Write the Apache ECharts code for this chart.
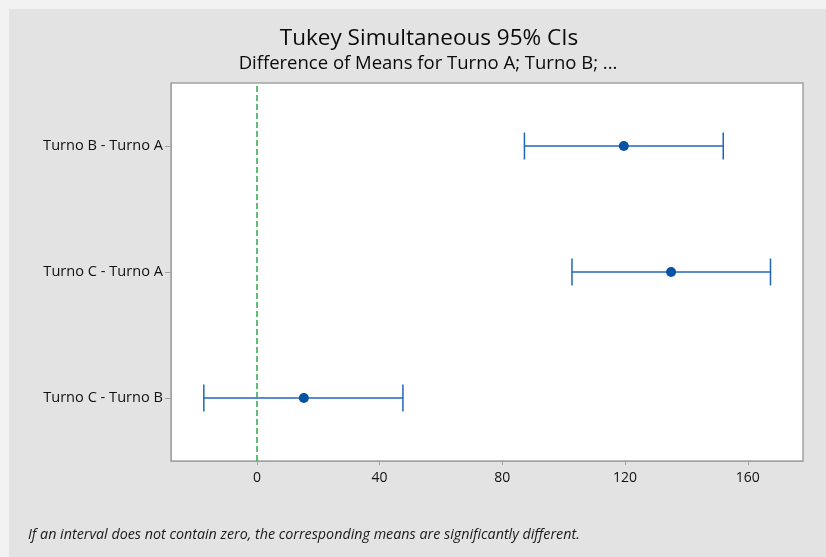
<!DOCTYPE html>
<html>
<head>
<meta charset="utf-8">
<script src="https://cdn.jsdelivr.net/npm/echarts@6/dist/echarts.min.js"></script>
<style>
html,body{margin:0;padding:0;background:#f2f2f2;}
#c{width:826px;height:557px;}
</style>
</head>
<body>
<div id="c"></div>
<script>
// Data (categories listed bottom to top)
var categories = ['Turno C - Turno B', 'Turno C - Turno A', 'Turno B - Turno A'];
var lowerValues = [-17.3, 102.7, 87.2];
var meanValues = [15.3, 135.0, 119.6];
var upperValues = [47.6, 167.4, 152.0];
var xTicks = [0, 40, 80, 120, 160];

var chart = echarts.init(document.getElementById('c'), null, {renderer: 'canvas'});

var errData = categories.map(function (c, i) { return [i, lowerValues[i], upperValues[i]]; });
var meanData = categories.map(function (c, i) { return [meanValues[i], c]; });

var FONT = '"Open Sans", "Noto Sans", sans-serif';
var BLUE = '#2066b8';

chart.setOption({
  backgroundColor: 'transparent',
  graphic: [{
    type: 'rect', z: -10, silent: true,
    shape: {x: 9, y: 9, width: 826, height: 557},
    style: {fill: '#e3e3e3'}
  }],
  title: [{
    text: 'Tukey Simultaneous 95% CIs',
    left: 424, top: 22, textAlign: 'center',
    textStyle: {fontFamily: FONT, fontSize: 22.5, fontWeight: 'normal', color: '#0a0a0a'}
  }, {
    text: 'Difference of Means for Turno A; Turno B; ...',
    left: 423, top: 49, textAlign: 'center',
    textStyle: {fontFamily: FONT, fontSize: 18.5, fontWeight: 'normal', color: '#0a0a0a'}
  }, {
    text: 'If an interval does not contain zero, the corresponding means are significantly different.',
    left: 23, top: 523,
    textStyle: {fontFamily: FONT, fontSize: 14.3, fontStyle: 'italic', fontWeight: 'normal', color: '#1a1a1a'}
  }],
  grid: {
    left: 171, top: 83, right: 23, bottom: 96,
    show: true, backgroundColor: '#ffffff', borderColor: '#a3a3a3', borderWidth: 1.5
  },
  xAxis: {
    type: 'value', min: -28, max: 178,
    splitLine: {show: false},
    axisLine: {show: true, onZero: false, lineStyle: {color: '#a3a3a3', width: 1}},
    axisTick: {show: true, length: 4, lineStyle: {color: '#a3a3a3'}, customValues: xTicks},
    axisLabel: {customValues: xTicks, fontFamily: FONT, fontSize: 14, color: '#111', margin: 10}
  },
  yAxis: {
    type: 'category', data: categories,
    axisLine: {show: true, onZero: false, lineStyle: {color: '#a3a3a3', width: 1}},
    axisTick: {show: true, alignWithLabel: true, length: 6, lineStyle: {color: '#a3a3a3'}},
    axisLabel: {fontFamily: FONT, fontSize: 14.6, color: '#111', margin: 8},
    splitLine: {show: false}
  },
  series: [{
    type: 'custom',
    data: errData,
    z: 3,
    renderItem: function (params, api) {
      var cat = api.value(0);
      var lo = api.coord([api.value(1), cat]);
      var hi = api.coord([api.value(2), cat]);
      var h = 13.5;
      var style = {stroke: BLUE, lineWidth: 1.5, fill: null};
      return {
        type: 'group',
        children: [
          {type: 'line', shape: {x1: lo[0], y1: lo[1], x2: hi[0], y2: hi[1]}, style: style},
          {type: 'line', shape: {x1: lo[0], y1: lo[1] - h, x2: lo[0], y2: lo[1] + h}, style: style},
          {type: 'line', shape: {x1: hi[0], y1: hi[1] - h, x2: hi[0], y2: hi[1] + h}, style: style}
        ]
      };
    },
    markLine: {
      silent: true, symbol: 'none', label: {show: false},
      lineStyle: {color: '#2ea84c', type: [6, 3], width: 1.5},
      data: [{xAxis: 0}]
    }
  }, {
    type: 'scatter',
    data: meanData,
    symbol: 'circle', symbolSize: 10,
    itemStyle: {color: '#0653a5', opacity: 1},
    z: 5
  }]
});
</script>
</body>
</html>
